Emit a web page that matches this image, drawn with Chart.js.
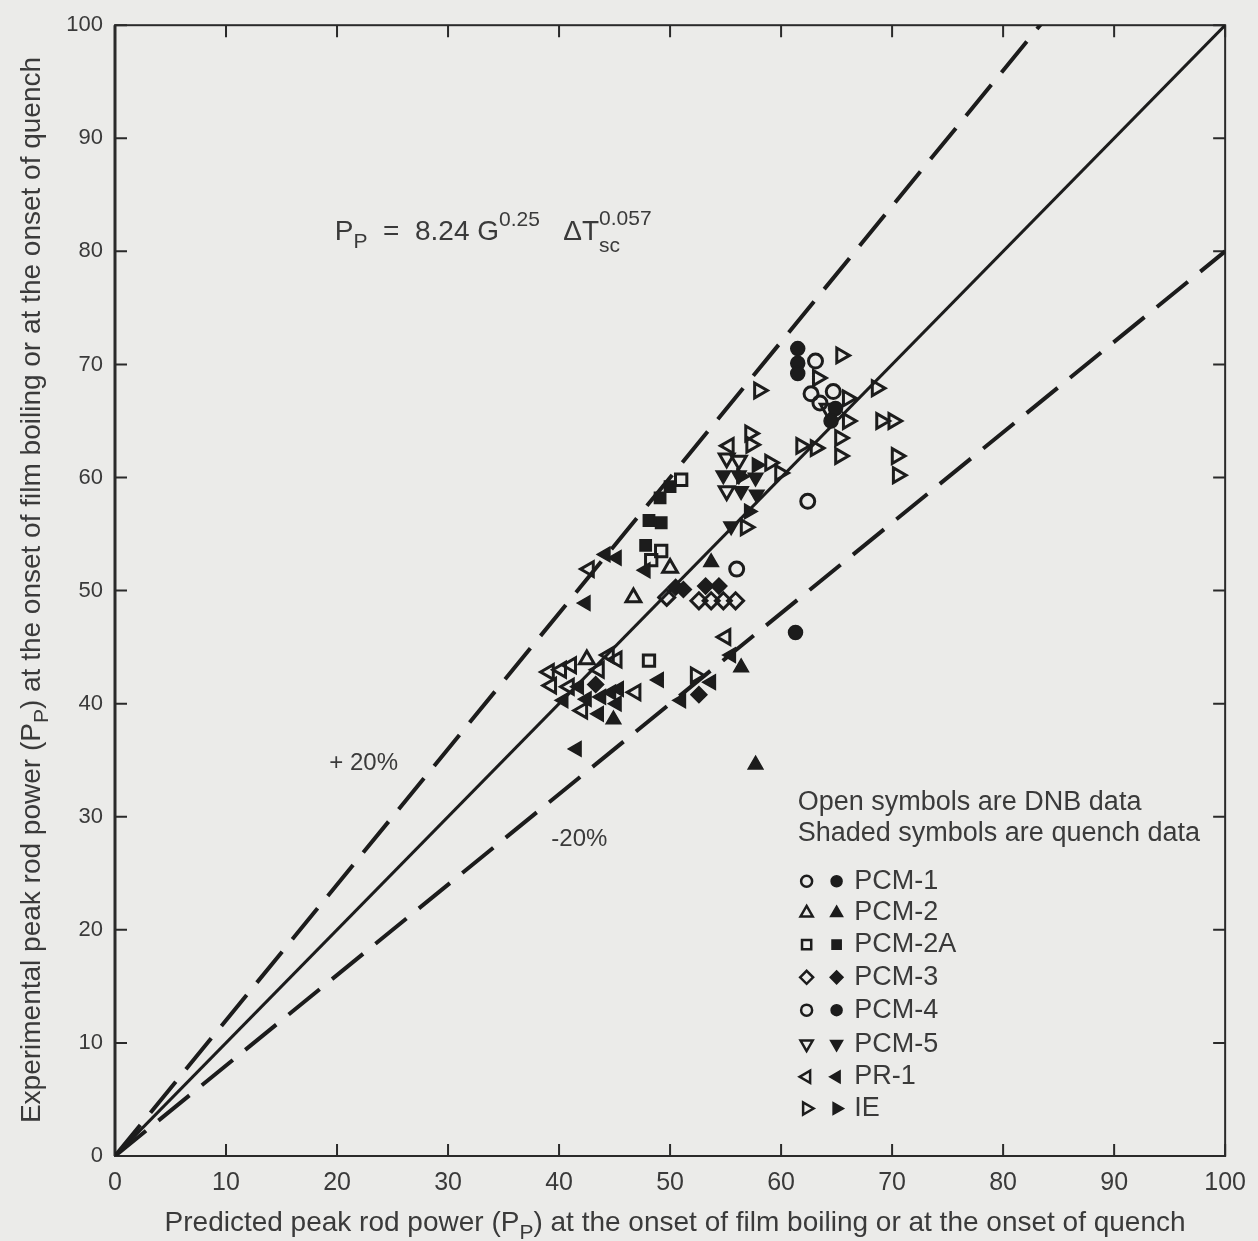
<!DOCTYPE html>
<html>
<head>
<meta charset="utf-8">
<script src="https://cdn.jsdelivr.net/npm/chart.js@4.4.1/dist/chart.umd.min.js"></script>
<style>
  html,body{margin:0;padding:0;background:#ebebe9;}
  #wrap{width:1258px;height:1241px;}
</style>
</head>
<body>
<div id="wrap"><canvas id="myChart" width="1258" height="1241"></canvas></div>
<script>
'use strict';

// axis ticks
const xTicks=[0,10,20,30,40,50,60,70,80,90,100];
const yTicks=[0,10,20,30,40,50,60,70,80,90,100];

// reference lines: measured = factor * predicted
const lineX=[0,100];
const upperY=[0,120];
const centerY=[0,100];
const lowerY=[0,80];

const seriesNames=['PCM-1','PCM-2','PCM-2A','PCM-3','PCM-4','PCM-5','PR-1','IE'];

// [predicted, experimental] — open = DNB, filled = quench
const pcm1Open=[[56.0,51.9],[62.4,57.9],[64.7,67.6],[63.1,70.3]];
const pcm1Filled=[[61.5,71.4],[61.5,70.1],[61.5,69.2],[61.3,46.3]];
const pcm2Open=[[50.0,52.0],[46.7,49.4],[42.5,43.9]];
const pcm2Filled=[[53.7,52.5],[44.9,38.6],[56.4,43.2],[57.7,34.6]];
const pcm2aOpen=[[49.2,53.5],[51.0,59.8],[48.1,43.8],[48.3,52.7]];
const pcm2aFilled=[[48.1,56.2],[49.2,56.0],[47.8,54.0],[49.1,58.2],[50.0,59.2]];
const pcm3Open=[[49.7,49.4],[52.6,49.1],[53.7,49.1],[54.8,49.1],[55.9,49.1]];
const pcm3Filled=[[50.5,50.3],[51.2,50.1],[52.6,40.8],[53.2,50.4],[54.4,50.4],[43.3,41.7]];
const pcm4Open=[[62.7,67.4],[63.5,66.6]];
const pcm4Filled=[[64.9,66.1],[64.5,65.0]];
const pcm5Open=[[55.1,61.7],[56.2,61.5],[64.2,66.1],[55.1,58.8]];
const pcm5Filled=[[54.8,60.2],[56.2,60.2],[57.7,60.0],[56.4,58.8],[57.8,58.5],[55.5,55.7]];
const pr1Open=[[39.1,42.8],[40.2,43.0],[41.1,43.4],[39.3,41.6],[40.9,41.5],[42.7,51.9],[43.6,43.0],
  [44.5,44.3],[45.2,43.9],[55.0,45.9],[42.1,39.4],[55.3,62.8],[46.9,41.0]];
const pr1Filled=[[41.6,36.0],[42.4,48.9],[44.2,53.2],[45.2,52.9],[40.4,40.3],[41.8,41.5],[42.5,40.4],
  [43.8,40.6],[44.7,41.0],[45.2,40.0],[43.6,39.1],[49.0,42.1],[51.0,40.3],[53.7,41.9],[55.5,44.3],
  [47.8,51.8],[45.4,41.3]];
const ieOpen=[[65.4,70.8],[63.3,68.8],[68.6,67.9],[66.0,67.0],[66.0,65.0],[65.3,63.5],[69.0,65.0],
  [70.1,65.0],[61.8,62.8],[63.1,62.6],[65.3,61.9],[70.4,61.9],[70.5,60.2],[57.2,63.9],[57.3,62.9],
  [59.0,61.3],[59.9,60.4],[56.8,55.6],[58.0,67.7],[52.3,42.5]];
const ieFilled=[[57.8,61.1],[57.1,57.0],[56.4,60.1]];

const openData=[pcm1Open,pcm2Open,pcm2aOpen,pcm3Open,pcm4Open,pcm5Open,pr1Open,ieOpen];
const filledData=[pcm1Filled,pcm2Filled,pcm2aFilled,pcm3Filled,pcm4Filled,pcm5Filled,pr1Filled,ieFilled];

// marker shape for each series
const symbols=[
  {style:'circle',rot:0,r:7},
  {style:'triangle',rot:0,r:8.5},
  {style:'rect',rot:0,r:8},
  {style:'rectRot',rot:0,r:8},
  {style:'circle',rot:0,r:7},
  {style:'triangle',rot:180,r:8.5},
  {style:'triangle',rot:270,r:8.5},
  {style:'triangle',rot:90,r:8.5}
];

const ink='#1c1c1c';
const textInk='#3a3a3a';
const narrow='"Liberation Sans Narrow","Liberation Sans",Arial,sans-serif';
const sans='"Liberation Sans",Arial,sans-serif';

function toPts(arr){
  return arr.map(p=>({x:p[0],y:p[1]}));
}
function linePts(ys){
  return lineX.map((v,i)=>({x:v,y:ys[i]}));
}

let datasets=[];
datasets.push({label:'+20%',data:linePts(upperY),showLine:true,pointRadius:0,borderColor:ink,borderWidth:4,borderDash:[40,16],order:10});
datasets.push({label:'fit',data:linePts(centerY),showLine:true,pointRadius:0,borderColor:ink,borderWidth:3,order:10});
datasets.push({label:'-20%',data:linePts(lowerY),showLine:true,pointRadius:0,borderColor:ink,borderWidth:4,borderDash:[40,16],order:10});

for(let i=0;i<seriesNames.length;i++){
  datasets.push({
    label:seriesNames[i]+' DNB',
    data:toPts(openData[i]),
    pointStyle:symbols[i].style,
    rotation:symbols[i].rot,
    pointRadius:symbols[i].r,
    pointBackgroundColor:'rgba(0,0,0,0)',
    pointBorderColor:ink,
    pointBorderWidth:3,
    order:1
  });
  datasets.push({
    label:seriesNames[i]+' quench',
    data:toPts(filledData[i]),
    pointStyle:symbols[i].style,
    rotation:symbols[i].rot,
    pointRadius:symbols[i].r,
    pointBackgroundColor:ink,
    pointBorderColor:ink,
    pointBorderWidth:1.5,
    order:0
  });
}

// text with sub/superscripts: parts = [text, mode] mode 0 normal, 1 sub, 2 sup
function richWidth(ctx,parts,size,family){
  let w=0;
  parts.forEach(p=>{
    ctx.font=(p[1]?size*0.75:size)+'px '+family;
    w+=ctx.measureText(p[0]).width;
  });
  return w;
}
function drawRich(ctx,parts,x,y,size,family){
  let cx=x;
  parts.forEach(p=>{
    const s=p[1]?size*0.75:size;
    ctx.font=s+'px '+family;
    let dy=0;
    if(p[1]===1) dy=size*0.3;
    if(p[1]===2) dy=-size*0.5;
    ctx.fillText(p[0],cx,y+dy);
    cx+=ctx.measureText(p[0]).width;
  });
}

const xTitle=[['Predicted peak rod power (P',0],['P',1],[') at the onset of film boiling or at the onset of quench',0]];
const yTitle=[['Experimental peak rod power (P',0],['P',1],[') at the onset of film boiling or at the onset of quench',0]];
const equation=[['P',0],['P',1],['  =  8.24 G',0],['0.25',2],['   \u0394T',0]];

const decor={
  id:'decor',
  beforeDatasetsDraw(chart){
    const ctx=chart.ctx;
    const a=chart.chartArea;
    const xs=chart.scales.x;
    const ys=chart.scales.y;
    ctx.save();
    ctx.strokeStyle='#2a2a2a';
    ctx.lineWidth=2;
    ctx.strokeRect(a.left,a.top,a.right-a.left,a.bottom-a.top);
    ctx.lineWidth=3;
    ctx.beginPath();
    ctx.moveTo(a.left,a.top);ctx.lineTo(a.left,a.bottom);
    ctx.stroke();
    ctx.lineWidth=2;
    ctx.beginPath();
    xTicks.forEach(v=>{
      const px=xs.getPixelForValue(v);
      ctx.moveTo(px,a.bottom);ctx.lineTo(px,a.bottom-12);
      ctx.moveTo(px,a.top);ctx.lineTo(px,a.top+12);
    });
    yTicks.forEach(v=>{
      const py=ys.getPixelForValue(v);
      ctx.moveTo(a.left,py);ctx.lineTo(a.left+12,py);
      ctx.moveTo(a.right,py);ctx.lineTo(a.right-12,py);
    });
    ctx.stroke();
    ctx.restore();
  },
  afterDraw(chart){
    const ctx=chart.ctx;
    const a=chart.chartArea;
    const xs=chart.scales.x;
    const ys=chart.scales.y;
    ctx.save();
    ctx.fillStyle=textInk;
    ctx.textBaseline='alphabetic';
    ctx.textAlign='left';

    // axis titles
    let size=28;
    let w=richWidth(ctx,xTitle,size,narrow);
    drawRich(ctx,xTitle,(a.left+a.right)/2-w/2+5,chart.height-10,size,narrow);
    w=richWidth(ctx,yTitle,size,narrow);
    ctx.save();
    ctx.translate(40,590);
    ctx.rotate(-Math.PI/2);
    drawRich(ctx,yTitle,-w/2,0,size,narrow);
    ctx.restore();

    // correlation
    const ex=xs.getPixelForValue(19.8);
    const ey=ys.getPixelForValue(81.0);
    size=28;
    drawRich(ctx,equation,ex,ey,size,sans);
    const eqW=richWidth(ctx,equation,size,sans);
    ctx.font=(size*0.75)+'px '+sans;
    ctx.fillText('0.057',ex+eqW,ey-size*0.55);
    ctx.fillText('sc',ex+eqW,ey+size*0.42);

    // band labels
    ctx.font='24px '+sans;
    ctx.textBaseline='middle';
    ctx.fillText('+ 20%',xs.getPixelForValue(19.3),ys.getPixelForValue(34.7));
    ctx.fillText('-20%',xs.getPixelForValue(39.3),ys.getPixelForValue(28.0));

    // key
    ctx.font='27px '+sans;
    const kx=xs.getPixelForValue(61.5);
    ctx.fillText('Open symbols are DNB data',kx,ys.getPixelForValue(31.3));
    ctx.fillText('Shaded symbols are quench data',kx,ys.getPixelForValue(28.5));
    const rowY=[24.3,21.5,18.7,15.8,12.9,9.9,7.0,4.2];
    const ox=xs.getPixelForValue(62.3);
    const fx=xs.getPixelForValue(65.0);
    const tx=xs.getPixelForValue(66.6);
    for(let i=0;i<seriesNames.length;i++){
      const py=ys.getPixelForValue(rowY[i]);
      const opt={pointStyle:symbols[i].style,rotation:symbols[i].rot,radius:symbols[i].r-1.5,borderWidth:2.5};
      ctx.strokeStyle=ink;
      ctx.fillStyle='rgba(0,0,0,0)';
      ctx.lineWidth=2.5;
      Chart.helpers.drawPoint(ctx,opt,ox,py);
      ctx.fillStyle=ink;
      ctx.lineWidth=1.5;
      Chart.helpers.drawPoint(ctx,Object.assign({},opt,{borderWidth:1.5}),fx,py);
      ctx.fillStyle=textInk;
      ctx.font='27px '+sans;
      ctx.fillText(seriesNames[i],tx,py);
    }
    ctx.restore();
  }
};

let ctx=document.getElementById('myChart').getContext('2d');
let chart=new Chart(ctx,{
  type:'scatter',
  data:{datasets:datasets},
  options:{
    responsive:false,
    animation:false,
    devicePixelRatio:1,
    layout:{padding:{top:20,right:30,left:0,bottom:0}},
    plugins:{legend:{display:false},tooltip:{enabled:false}},
    scales:{
      x:{
        type:'linear',min:0,max:100,
        afterFit(scale){scale.height=85;},
        afterBuildTicks(scale){scale.ticks=xTicks.map(v=>({value:v}));},
        grid:{display:false,drawTicks:false},
        border:{display:false},
        ticks:{color:textInk,font:{family:narrow,size:25},padding:12,maxRotation:0}
      },
      y:{
        type:'linear',min:0,max:100,
        afterFit(scale){scale.width=115;},
        afterBuildTicks(scale){scale.ticks=yTicks.map(v=>({value:v}));},
        grid:{display:false,drawTicks:false},
        border:{display:false},
        ticks:{color:textInk,font:{family:sans,size:22},padding:12}
      }
    }
  },
  plugins:[decor]
});
</script>
</body>
</html>
